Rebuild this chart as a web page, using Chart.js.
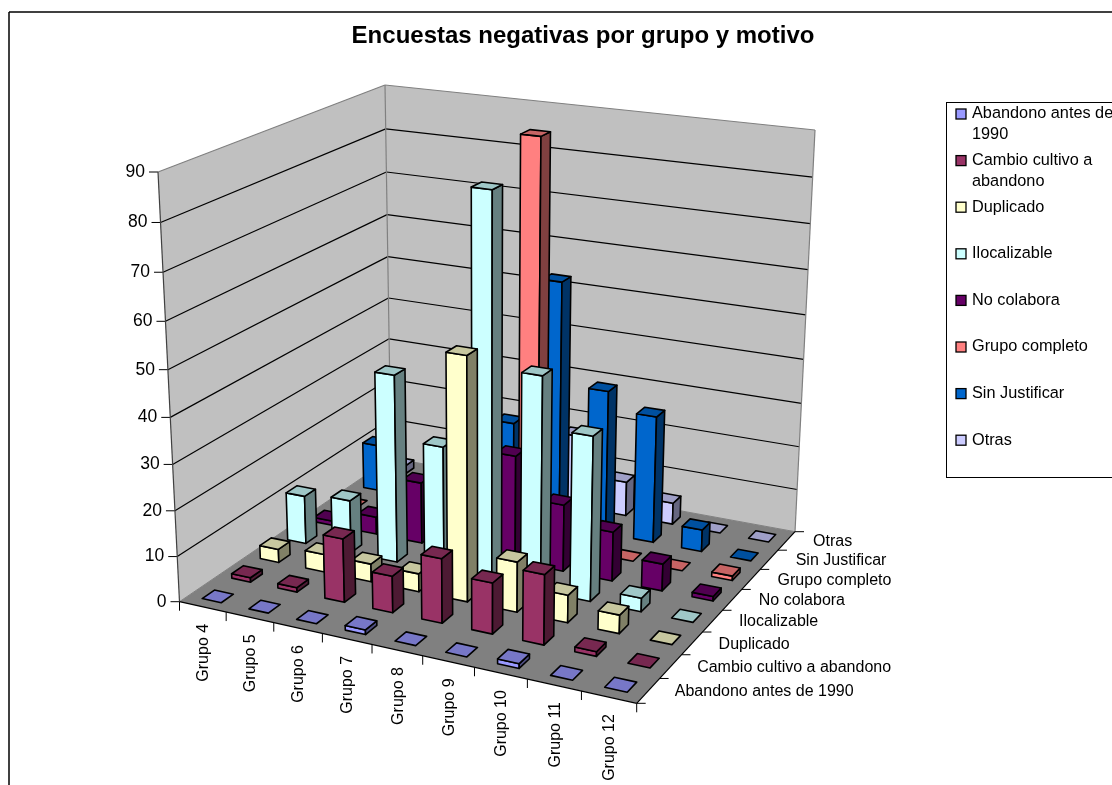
<!DOCTYPE html>
<html>
<head>
<meta charset="utf-8">
<title>Encuestas negativas por grupo y motivo</title>
<script src="https://cdn.jsdelivr.net/npm/chart.js@4"></script>
<style>
  html, body { margin: 0; padding: 0; background: #fff; overflow: hidden; }
  canvas { display: block; }
</style>
</head>
<body>
<canvas id="grafico" width="1112" height="785"></canvas>
<script>
// datos
const grupos = ["Grupo 4", "Grupo 5", "Grupo 6", "Grupo 7", "Grupo 8", "Grupo 9", "Grupo 10", "Grupo 11", "Grupo 12"];
const motivos = ["Abandono antes de 1990", "Cambio cultivo a abandono", "Duplicado", "Ilocalizable", "No colabora", "Grupo completo", "Sin Justificar", "Otras"];
const abandono = [0, 0, 0, 1, 0, 0, 1, 0, 0];
const cambio = [1, 1, 14, 8, 14, 11, 15, 1, 0];
const duplicado = [3, 4, 4, 4, 53, 11, 6, 4, 0];
const ilocalizable = [11, 12, 42, 28, 84, 47, 36, 3, 0];
const noColabora = [1, 4, 14, 10, 24, 15, 11, 6, 1];
const grupoCompleto = [0, 0, 0, 0, 90, 0, 0, 0, 1];
const sinJustificar = [11, 0, 0, 22, 56, 33, 29, 5, 0];
const otras = [2, 0, 0, 0, 17, 8, 5, 0, 0];
const valores = [abandono, cambio, duplicado, ilocalizable, noColabora, grupoCompleto, sinJustificar, otras];
const colores = ["#9999FF", "#993366", "#FFFFCC", "#CCFFFF", "#660066", "#FF8080", "#0066CC", "#CCCCFF"];

const titulo = "Encuestas negativas por grupo y motivo";
const fuente = '"Liberation Sans", Arial, sans-serif';

// caja 3D en pixeles: suelo y techo (frente-izq, frente-der, fondo-der, fondo-izq)
const suelo = [[179.5, 601.7], [636.7, 703.3], [795, 531.7], [391, 458]];
const techo = [[158, 172], [648.5, 235], [815, 130], [385, 85]];
const perspectivaAltura = 1.065;
const anchoBarra = 0.41;

// homografia del cuadrado unidad a un cuadrilatero
function mapaCuadro(q) {
  const [p0, p1, p2, p3] = q;
  const dx1 = p1[0] - p2[0], dx2 = p3[0] - p2[0], sx = p0[0] - p1[0] + p2[0] - p3[0];
  const dy1 = p1[1] - p2[1], dy2 = p3[1] - p2[1], sy = p0[1] - p1[1] + p2[1] - p3[1];
  const det = dx1 * dy2 - dx2 * dy1;
  const g = (sx * dy2 - dx2 * sy) / det;
  const h = (dx1 * sy - sx * dy1) / det;
  return function (u, w) {
    const d = g * u + h * w + 1;
    return [
      ((p1[0] - p0[0] + g * p1[0]) * u + (p3[0] - p0[0] + h * p3[0]) * w + p0[0]) / d,
      ((p1[1] - p0[1] + g * p1[1]) * u + (p3[1] - p0[1] + h * p3[1]) * w + p0[1]) / d,
    ];
  };
}
const mapaSuelo = mapaCuadro(suelo);
const mapaTecho = mapaCuadro(techo);

// u: a lo largo de los grupos, w: fondo, t: altura (todo de 0 a 1)
function proyectar(u, w, t) {
  const a = mapaSuelo(u, w), b = mapaTecho(u, w);
  const f = t / (t + (1 - t) * perspectivaAltura);
  return [a[0] + (b[0] - a[0]) * f, a[1] + (b[1] - a[1]) * f];
}

function cara(ctx, puntos, relleno, borde, grosor) {
  ctx.beginPath();
  puntos.forEach((p, i) => (i ? ctx.lineTo(p[0], p[1]) : ctx.moveTo(p[0], p[1])));
  ctx.closePath();
  if (relleno) {
    ctx.fillStyle = relleno;
    ctx.fill();
  }
  if (borde) {
    ctx.strokeStyle = borde;
    ctx.lineWidth = grosor;
    ctx.stroke();
  }
}

function linea(ctx, a, b, color, grosor) {
  ctx.beginPath();
  ctx.moveTo(a[0], a[1]);
  ctx.lineTo(b[0], b[1]);
  ctx.strokeStyle = color;
  ctx.lineWidth = grosor;
  ctx.stroke();
}

function oscurecer(hex, k) {
  const n = parseInt(hex.slice(1), 16);
  const c = [(n >> 16) & 255, (n >> 8) & 255, n & 255].map((v) => Math.round(v * k));
  return "rgb(" + c.join(",") + ")";
}

const decimal = (escala, v) => escala.getDecimalForPixel(escala.getPixelForValue(v));

// barra 3D: mismo calculo que una barra normal, pero dibujada con la proyeccion
class Barra3D extends Chart.BarController {
  draw() {
    const meta = this._cachedMeta;
    const ctx = this.chart.ctx;
    const z = this.chart.scales.z;
    const color = this.getDataset().backgroundBase;
    const fila = decimal(z, this.index);
    const du = (anchoBarra / grupos.length) / 2;
    const dw = (anchoBarra / motivos.length) / 2;
    meta._parsed.forEach((p, i) => {
      const c = decimal(meta.iScale, i);
      const t = meta.vScale.getDecimalForPixel(meta.vScale.getPixelForValue(p.y));
      const u0 = c - du, u1 = c + du, w0 = fila - dw, w1 = fila + dw;
      ctx.save();
      ctx.lineJoin = "round";
      if (t > 0) {
        cara(ctx, [proyectar(u0, w0, 0), proyectar(u1, w0, 0), proyectar(u1, w0, t), proyectar(u0, w0, t)], color, "#000", 1.6);
        cara(ctx, [proyectar(u1, w0, 0), proyectar(u1, w1, 0), proyectar(u1, w1, t), proyectar(u1, w0, t)], oscurecer(color, 0.5), "#000", 1.6);
      }
      cara(ctx, [proyectar(u0, w0, t), proyectar(u1, w0, t), proyectar(u1, w1, t), proyectar(u0, w1, t)], oscurecer(color, 0.78), "#000", 1.6);
      ctx.restore();
    });
  }
}
Barra3D.id = "barra3d";
Barra3D.defaults = Chart.BarController.defaults;
Barra3D.overrides = Chart.BarController.overrides;
Chart.register(Barra3D);

// paredes, rejilla, ejes, titulo y leyenda
const caja3d = {
  id: "caja3d",
  beforeDatasetsDraw(chart) {
    const ctx = chart.ctx;
    const y = chart.scales.y, x = chart.scales.x, z = chart.scales.z;

    ctx.save();
    cara(ctx, [suelo[0], suelo[3], techo[3], techo[0]], "#C0C0C0");
    cara(ctx, [suelo[3], suelo[2], techo[2], techo[3]], "#C0C0C0");
    cara(ctx, suelo, "#808080");

    y.ticks.forEach((tick) => {
      const t = decimal(y, tick.value);
      const a = proyectar(0, 0, t), b = proyectar(0, 1, t), c = proyectar(1, 1, t);
      if (t > 0 && t < 1) {
        linea(ctx, a, b, "#000", 1.2);
        linea(ctx, b, c, "#000", 1.2);
      }
      linea(ctx, [a[0] - 9, a[1]], a, "#000", 1);
      ctx.fillStyle = "#000";
      ctx.font = "17.5px " + fuente;
      ctx.textAlign = "right";
      ctx.textBaseline = "middle";
      ctx.fillText(tick.label, a[0] - 13, a[1]);
    });

    // bordes de las paredes
    linea(ctx, techo[0], techo[3], "#808080", 1.2);
    linea(ctx, techo[3], techo[2], "#808080", 1.2);
    linea(ctx, techo[3], suelo[3], "#808080", 1.2);
    linea(ctx, techo[2], suelo[2], "#808080", 1.2);
    linea(ctx, techo[0], suelo[0], "#404040", 1.2);
    linea(ctx, suelo[2], suelo[3], "#808080", 1);
    linea(ctx, suelo[3], suelo[0], "#808080", 1);
    linea(ctx, suelo[0], suelo[1], "#000", 1.2);
    linea(ctx, suelo[1], suelo[2], "#000", 1.2);

    // eje de grupos
    for (let i = 0; i <= grupos.length; i++) {
      const p = proyectar(i / grupos.length, 0, 0);
      linea(ctx, p, [p[0], p[1] + 9], "#000", 1);
    }
    grupos.forEach((g, i) => {
      const p = proyectar(decimal(x, i), 0, 0);
      ctx.save();
      ctx.translate(p[0] + 1, p[1] + 17);
      ctx.rotate(-Math.PI / 2);
      ctx.fillStyle = "#000";
      ctx.font = "16px " + fuente;
      ctx.textAlign = "right";
      ctx.textBaseline = "middle";
      ctx.fillText(g, 0, 0);
      ctx.restore();
    });

    // eje de motivos
    for (let i = 0; i <= motivos.length; i++) {
      const p = proyectar(1, i / motivos.length, 0);
      linea(ctx, p, [p[0] + 9, p[1]], "#000", 1);
    }
    motivos.forEach((m, i) => {
      const p = proyectar(1, decimal(z, i), 0);
      ctx.fillStyle = "#000";
      ctx.font = "16px " + fuente;
      ctx.textAlign = "left";
      ctx.textBaseline = "middle";
      ctx.fillText(m, p[0] + 26.5, p[1] + 1);
    });
    ctx.restore();
  },
  afterDraw(chart) {
    const ctx = chart.ctx;
    ctx.save();
    // marco del grafico
    linea(ctx, [9, 785], [9, 12], "#000", 1.5);
    linea(ctx, [9, 12], [1112, 12], "#000", 1.5);

    ctx.fillStyle = "#000";
    ctx.font = "bold 24px " + fuente;
    ctx.textAlign = "center";
    ctx.textBaseline = "middle";
    ctx.fillText(titulo, 583, 36);

    // leyenda
    ctx.strokeStyle = "#000";
    ctx.lineWidth = 1;
    ctx.strokeRect(946.5, 102.5, 200, 375);
    ctx.font = "16.3px " + fuente;
    ctx.textAlign = "left";
    motivos.forEach((m, i) => {
      const yFila = 114 + i * 46.6;
      ctx.fillStyle = colores[i];
      ctx.fillRect(956, yFila - 5, 10, 10);
      ctx.strokeStyle = "#000";
      ctx.lineWidth = 1.3;
      ctx.strokeRect(956, yFila - 5, 10, 10);
      ctx.fillStyle = "#000";
      // corte de linea como en la leyenda original
      let linea1 = "", linea2 = "";
      m.split(" ").forEach((palabra) => {
        const prueba = (linea1 ? linea1 + " " : "") + palabra;
        if (!linea2 && ctx.measureText(prueba).width < 145) linea1 = prueba;
        else linea2 = (linea2 ? linea2 + " " : "") + palabra;
      });
      ctx.fillText(linea1, 972, yFila);
      if (linea2) ctx.fillText(linea2, 972, yFila + 21);
    });
    ctx.restore();
  },
};

new Chart(document.getElementById("grafico"), {
  type: "barra3d",
  data: {
    labels: grupos,
    datasets: motivos.map((m, i) => ({
      label: m,
      data: valores[i],
      backgroundBase: colores[i],
      backgroundColor: colores[i],
    })),
  },
  options: {
    responsive: false,
    animation: false,
    devicePixelRatio: 1,
    plugins: { legend: { display: false }, title: { display: false }, tooltip: { enabled: false } },
    scales: {
      x: { type: "category", display: false, offset: true },
      z: { type: "category", axis: "x", display: false, offset: true, labels: motivos },
      y: { type: "linear", display: false, min: 0, max: 90, ticks: { stepSize: 10 } },
    },
  },
  plugins: [caja3d],
});
</script>
</body>
</html>
